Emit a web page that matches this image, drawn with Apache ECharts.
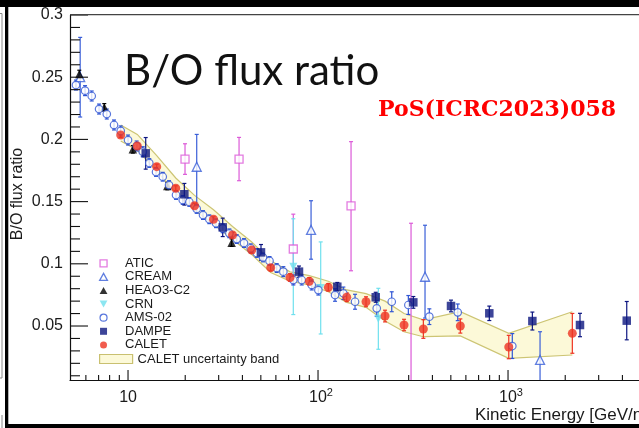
<!DOCTYPE html>
<html><head><meta charset="utf-8">
<script src="https://cdn.jsdelivr.net/npm/echarts@6/dist/echarts.min.js"></script>
<style>html,body{margin:0;padding:0;background:#fff}#c{width:639px;height:428px}</style>
</head><body><div id="c"></div>
<script>
// ---------------- data ----------------
const amsE = [5.32,5.94,6.44,7.04,7.73,8.44,9.15,10.0,11.1,11.95,12.94,14.04,15.23,16.44,17.89,19.41,21.02,22.99,24.81,26.78,29.05,31.5,34.14,37.34,40.77,44.23,47.59,51.35,55.55,60.62,65.68,74.13,82.06,92.65,100.4,122.9,135.9,156.6,203.7,244.3,298.8,385.3,543.6,1053];
const amsV = [0.2437,0.2392,0.2349,0.2244,0.2204,0.2116,0.2068,0.1995,0.1947,0.1901,0.1810,0.1738,0.1700,0.1633,0.1553,0.1513,0.1497,0.1441,0.1392,0.1358,0.1326,0.1285,0.1245,0.1199,0.1167,0.1125,0.1087,0.1051,0.1023,0.0966,0.0937,0.0870,0.0870,0.0830,0.0789,0.0749,0.0763,0.0695,0.0642,0.0695,0.0669,0.0575,0.0610,0.0339];
const amsErr = [0.004,0.004,0.004,0.004,0.004,0.004,0.004,0.004,0.004,0.004,0.0035,0.0035,0.0035,0.0035,0.0035,0.0035,0.0035,0.0035,0.0035,0.0035,0.0035,0.0035,0.0035,0.0035,0.0035,0.0035,0.0035,0.0035,0.0035,0.0035,0.004,0.004,0.004,0.004,0.004,0.005,0.005,0.006,0.0065,0.008,0.0076,0.0063,0.0067,0.01];

const caletE = [9.15,11.19,14.16,17.83,22.39,28.18,35.48,44.77,56.36,71.24,90.0,113.3,141.6,178.9,225.3,283.6,358.4,561,1009,2180];
const caletV = [0.2035,0.1947,0.1781,0.1607,0.1467,0.1358,0.1232,0.1111,0.0969,0.0890,0.0859,0.0811,0.0731,0.0695,0.0580,0.0508,0.0476,0.0500,0.0331,0.0441];
const caletErr = [0.002,0.002,0.002,0.002,0.002,0.002,0.002,0.0025,0.0025,0.003,0.003,0.003,0.0035,0.004,0.0047,0.0046,0.0075,0.0057,0.0094,0.016];

const bandE  = [9.15,11.19,14.16,17.83,22.39,28.18,35.48,44.77,56.36,71.24,90.0,113.3,141.6,178.9,225.3,283.6,358.4,561,1009,2180];
const bandUp = [0.2116,0.2040,0.1870,0.1690,0.1550,0.1435,0.1300,0.1175,0.1025,0.0935,0.0905,0.0860,0.0790,0.0760,0.0700,0.0600,0.0550,0.0615,0.0441,0.0615];
const bandLo = [0.1987,0.1915,0.1745,0.1570,0.1430,0.1320,0.1195,0.1075,0.0930,0.0860,0.0830,0.0775,0.0690,0.0650,0.0540,0.0454,0.0414,0.0420,0.0240,0.0267];

const dampeE = [12.39,19.79,31.5,50.1,79.4,126.3,201.2,317.4,501,797,1343,2392,4215];
const dampeV = [0.1888,0.1559,0.1293,0.1092,0.0937,0.0816,0.0731,0.0690,0.0661,0.0602,0.0540,0.0508,0.0543];
const dampeErr = [0.0127,0.0087,0.0074,0.0063,0.0045,0.0034,0.004,0.0047,0.0047,0.0058,0.0072,0.0094,0.0154];

const heaoE = [5.54,7.5,10.6,16.1,35.1];
const heaoV = [0.2526,0.2258,0.192,0.1625,0.117];
const heaoErr = [0.003,0.003,0.003,0.003,0.003];

const creamE = [5.6,22.99,91.9,365.7,1474];
const creamV = [0.25,0.178,0.1272,0.0896,0.0227];
const creamErrUp = [0.032,0.026,0.0235,0.0414,0.0227];
const creamErrDn = [0.032,0.032,0.0235,0.0332,0.03];

const aticE = [19.95,38.4,74.1,149.2,308.7];
const aticV = [0.1842,0.1842,0.1119,0.1465,0.003];
const aticErrUp = [0.0123,0.0174,0.028,0.0517,0.1296];
const aticErrDn = [0.0123,0.0174,0.028,0.0521,0.003];

const crnE = [74.1,103.3,207.7];
const crnV = [0.0977,0.0806,0.0558];
const crnErr = [0.0385,0.037,0.0245];

const xMajorTicks = [10,100,1000];
const xTickLabels = ['10','10{sup|2}','10{sup|3}'];
const xMinorTicks = [6,7,8,9,20,30,40,50,60,70,80,90,200,300,400,500,600,700,800,900,2000,3000,4000];
const yMajorTicks = [0.05,0.1,0.15,0.2,0.25,0.3];
const yTickLabels = ['0.05','0.1','0.15','0.2','0.25','0.3'];
const yMinorTicks = [0.01,0.02,0.03,0.04,0.06,0.07,0.08,0.09,0.11,0.12,0.13,0.14,0.16,0.17,0.18,0.19,0.21,0.22,0.23,0.24,0.26,0.27,0.28,0.29];

// ---------------- chart ----------------
const X_MIN = 4.95, X_MAX = 4890, Y_MIN = 0.0066, Y_MAX = 0.3;
const FONT = '"Liberation Sans", Arial, Helvetica, sans-serif';

const C = {
  atic: '#dc5ad8', cream: '#3a5fd8', heao: '#000000', crn: '#6fe0ee',
  ams: '#2f55d4', dampe: '#0d1680', calet: '#ee3322'
};

function errSeries(E, V, lo, hi, color) {
  return {
    type: 'custom', clip: true, silent: true,
    data: E.map((e, i) => [e, V[i], V[i] - lo[i], V[i] + hi[i]]),
    encode: { x: 0, y: 1 },
    renderItem(params, api) {
      const e = api.value(0);
      const a = api.coord([e, api.value(2)]);
      const b = api.coord([e, api.value(3)]);
      const c = 2;
      const st = { stroke: color, lineWidth: 1.2 };
      return { type: 'group', children: [
        { type: 'line', shape: { x1: a[0], y1: a[1], x2: b[0], y2: b[1] }, style: st },
        { type: 'line', shape: { x1: a[0] - c, y1: a[1], x2: a[0] + c, y2: a[1] }, style: st },
        { type: 'line', shape: { x1: b[0] - c, y1: b[1], x2: b[0] + c, y2: b[1] }, style: st }
      ]};
    }
  };
}
function pts(name, E, V, symbol, size, itemStyle, extra) {
  return Object.assign({
    type: 'scatter', name, data: E.map((e, i) => [e, V[i]]), symbol, symbolSize: size,
    itemStyle, clip: true, silent: true
  }, extra || {});
}

const series = [
  {
    type: 'custom', name: 'CALET uncertainty band', silent: true, clip: true,
    itemStyle: { color: '#fcf9d8', borderColor: '#cdc574', borderWidth: 1.2 },
    data: bandE.map((e, i) => [e, bandLo[i], bandUp[i]]),
    encode: { x: 0, y: 1 },
    renderItem(params, api) {
      if (params.dataIndex !== 0) return null;
      const up = bandE.map((e, i) => api.coord([e, bandUp[i]]));
      const lo = bandE.map((e, i) => api.coord([e, bandLo[i]]));
      const poly = up.concat(lo.slice().reverse());
      return { type: 'group', children: [
        { type: 'polygon', shape: { points: poly }, style: { fill: '#fcf9d8', stroke: null } },
        { type: 'polyline', shape: { points: up }, style: { stroke: '#cdc574', lineWidth: 1.2, fill: null } },
        { type: 'polyline', shape: { points: lo }, style: { stroke: '#cdc574', lineWidth: 1.2, fill: null } }
      ]};
    }
  },
  errSeries(aticE, aticV, aticErrDn, aticErrUp, C.atic),
  pts('ATIC', aticE, aticV, 'rect', 8, { color: '#fff', borderColor: C.atic, borderWidth: 1.3 }),
  errSeries(creamE, creamV, creamErrDn, creamErrUp, C.cream),
  pts('CREAM', creamE, creamV, 'triangle', 9, { color: '#fff', borderColor: C.cream, borderWidth: 1.3 }),
  errSeries(heaoE, heaoV, heaoErr, heaoErr, C.heao),
  pts('HEAO3-C2', heaoE, heaoV, 'triangle', 8.5, { color: C.heao }),
  errSeries(crnE, crnV, crnErr, crnErr, C.crn),
  pts('CRN', crnE, crnV, 'triangle', 8, { color: C.crn }, { symbolRotate: 180 }),
  errSeries(amsE, amsV, amsErr, amsErr, C.ams),
  pts('AMS-02', amsE, amsV, 'circle', 7.5, { color: '#fff', borderColor: C.ams, borderWidth: 1.2 }),
  errSeries(dampeE, dampeV, dampeErr, dampeErr, C.dampe),
  pts('DAMPE', dampeE, dampeV, 'rect', 8.5, { color: C.dampe }),
  errSeries(caletE, caletV, caletErr, caletErr, C.calet),
  pts('CALET', caletE, caletV, 'circle', 9, { color: C.calet }),
  // y ticks (inside)
  {
    type: 'custom', silent: true, clip: false, z: 10,
    data: yMajorTicks.map(v => [X_MIN, v, 1]).concat(yMinorTicks.map(v => [X_MIN, v, 0])),
    encode: { x: 0, y: 1 },
    renderItem(params, api) {
      const p = api.coord([api.value(0), api.value(1)]);
      const len = api.value(2) ? 18 : 10;
      return { type: 'line', shape: { x1: p[0], y1: p[1], x2: p[0] + len, y2: p[1] }, style: { stroke: '#111', lineWidth: 1.1 } };
    }
  },
  // y tick labels
  {
    type: 'custom', silent: true, clip: false, z: 10,
    data: yMajorTicks.map(v => [X_MIN, v]),
    encode: { x: 0, y: 1 },
    renderItem(params, api) {
      const p = api.coord([api.value(0), api.value(1)]);
      return { type: 'text', x: p[0] - 7, y: p[1], style: { text: yTickLabels[params.dataIndex], fill: '#1a1a1a', font: '16px ' + FONT, align: 'right', verticalAlign: 'middle' } };
    }
  },
  // x ticks (inside)
  {
    type: 'custom', silent: true, clip: false, z: 10,
    data: xMajorTicks.map(v => [v, Y_MIN, 1]).concat(xMinorTicks.map(v => [v, Y_MIN, 0])),
    encode: { x: 0, y: 1 },
    renderItem(params, api) {
      const p = api.coord([api.value(0), api.value(1)]);
      const len = api.value(2) ? 10 : 5;
      return { type: 'line', shape: { x1: p[0], y1: p[1], x2: p[0], y2: p[1] - len }, style: { stroke: '#111', lineWidth: 1.1 } };
    }
  },
  // x tick labels
  {
    type: 'custom', silent: true, clip: false, z: 10,
    data: xMajorTicks.map(v => [v, Y_MIN]),
    encode: { x: 0, y: 1 },
    renderItem(params, api) {
      const p = api.coord([api.value(0), api.value(1)]);
      const sup = params.dataIndex > 0;
      return { type: 'text', x: p[0] + (sup ? 3 : 0), y: p[1] + 17.5, style: {
        text: xTickLabels[params.dataIndex], fill: '#1a1a1a', font: '16px ' + FONT,
        align: 'center', verticalAlign: 'middle',
        rich: { sup: { fontSize: 11, fontFamily: FONT, fill: '#1a1a1a', padding: [0, 0, 9, 0] } }
      } };
    }
  }
];

const chart = echarts.init(document.getElementById('c'), null, { renderer: 'canvas' });
chart.setOption({
  animation: false,
  backgroundColor: '#ffffff',
  grid: { left: 70, right: 0, top: 15, height: 365, containLabel: false },
  xAxis: {
    type: 'log', logBase: 10, min: X_MIN, max: X_MAX,
    axisLine: { show: true, lineStyle: { color: '#111', width: 1.2 } },
    axisTick: { show: false }, axisLabel: { show: false }, splitLine: { show: false }, minorTick: { show: false }
  },
  yAxis: {
    type: 'value', min: Y_MIN, max: Y_MAX,
    axisLine: { show: true, lineStyle: { color: '#111', width: 1.2 } },
    axisTick: { show: false }, axisLabel: { show: false }, splitLine: { show: false }
  },
  legend: [
    {
      orient: 'vertical', left: 99, top: 256.5, padding: 0, itemGap: 0,
      itemWidth: 33, itemHeight: 7, selectedMode: false,
      textStyle: { fontFamily: FONT, fontSize: 13, color: '#1a1a1a', lineHeight: 13.6 },
      data: [
        { name: 'ATIC', icon: 'path://M0,0L10,0L10,10L0,10Z', itemStyle: { color: '#fff', borderColor: C.atic, borderWidth: 1.3 } },
        { name: 'CREAM', icon: 'path://M5,0L10,9L0,9Z', itemStyle: { color: '#fff', borderColor: C.cream, borderWidth: 1.3 } },
        { name: 'HEAO3-C2', icon: 'path://M5,0L10,9L0,9Z', itemStyle: { color: C.heao, borderWidth: 0 } },
        { name: 'CRN', icon: 'path://M0,0L10,0L5,9Z', itemStyle: { color: C.crn, borderWidth: 0 } },
        { name: 'AMS-02', icon: 'circle', itemStyle: { color: '#fff', borderColor: C.ams, borderWidth: 1.2 } },
        { name: 'DAMPE', icon: 'path://M0,0L10,0L10,10L0,10Z', itemStyle: { color: C.dampe, borderWidth: 0 } },
        { name: 'CALET', icon: 'circle', itemStyle: { color: C.calet, borderWidth: 0 } }
      ]
    },
    {
      orient: 'vertical', left: 99, top: 352.2, padding: 0, itemGap: 0,
      itemWidth: 33, itemHeight: 9, selectedMode: false,
      textStyle: { fontFamily: FONT, fontSize: 13, color: '#1a1a1a', lineHeight: 13.6 },
      data: [
        { name: 'CALET uncertainty band', icon: 'rect', itemStyle: { color: '#fcf9d8', borderColor: '#c9c070', borderWidth: 1.2 } }
      ]
    }
  ],
  graphic: [
    // frame decorations of the screenshot
    { type: 'rect', shape: { x: 0, y: 0, width: 639, height: 7 }, style: { fill: '#000' }, z: 100 },
    { type: 'rect', shape: { x: 5, y: 0, width: 3.3, height: 428 }, style: { fill: '#000' }, z: 100 },
    { type: 'rect', shape: { x: 5, y: 424, width: 634, height: 4 }, style: { fill: '#000' }, z: 100 },
    { type: 'polyline', shape: { points: [[0, 13.5], [2, 13.5], [2, 378], [0, 378]] }, style: { stroke: '#888', lineWidth: 1, fill: null }, z: 100 },
    { type: 'line', shape: { x1: 2, y1: 415, x2: 2, y2: 428 }, style: { stroke: '#888', lineWidth: 1 }, z: 100 },
    // top frame of the plot
    { type: 'line', shape: { x1: 70, y1: 14.6, x2: 639, y2: 14.6 }, style: { stroke: '#444', lineWidth: 1.3 }, z: 50 },
    // texts
    { type: 'text', x: 124, y: 71, style: { text: 'B/O flux ratio', font: '42px Lato, "Open Sans", sans-serif', fill: '#111', align: 'left', verticalAlign: 'middle' }, z: 60 },
    { type: 'text', x: 378, y: 110.5, style: { text: 'PoS(ICRC2023)058', font: 'bold 22px "DejaVu Serif", serif', fill: '#ff0000', align: 'left', verticalAlign: 'middle' }, z: 60 },
    { type: 'text', x: 475, y: 415, style: { text: 'Kinetic Energy [GeV/nucleon]', font: '17px ' + FONT, fill: '#1a1a1a', align: 'left', verticalAlign: 'middle' }, z: 60 },
    { type: 'text', x: 17.5, y: 194, rotation: Math.PI / 2, style: { text: 'B/O flux ratio', font: '16px ' + FONT, fill: '#1a1a1a', align: 'center', verticalAlign: 'middle' }, z: 60 }
  ],
  series
});
</script></body></html>
